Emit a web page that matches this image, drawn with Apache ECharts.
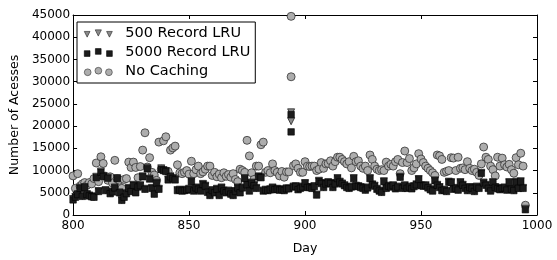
<!DOCTYPE html>
<html><head><meta charset="utf-8">
<script src="https://cdn.jsdelivr.net/npm/echarts@6/dist/echarts.min.js"></script>
<style>html,body{margin:0;padding:0;background:#fff}#c{width:557px;height:260px}</style>
</head><body><div id="c"></div>
<script>
const firstDay = 800;
const seriesNames = ['500 Record LRU', '5000 Record LRU', 'No Caching'];
const xTicks = [800, 850, 900, 950, 1000];
const yTicks = [0, 5000, 10000, 15000, 20000, 25000, 30000, 35000, 40000, 45000];

// one value per day starting at firstDay (800..995)
const noCaching = [
 8800, 6000, 9300, 6500, 7000, 7300, 6700, 7300, 7000, 8200,
 11700, 7500, 13100, 11600, 8700, 7800, 8600, 7200, 12300, 8200,
 7800, 6000, 8000, 8200, 11900, 10700, 11900, 10700, 8400, 10900,
 14600, 18500, 10800, 12900, 9600, 9000, 7800, 16400, 10300, 16700,
 17600, 9800, 14600, 15100, 15500, 11300, 9500, 9300, 9600, 10000,
 9200, 12100, 9300, 10200, 11000, 9300, 9700, 10300, 11000, 11000,
 8900, 9600, 8600, 9200, 8400, 9500, 8700, 9100, 8500, 9300,
 8000, 7500, 10300, 10000, 9600, 16800, 13300, 9500, 8000, 11000,
 11000, 15800, 16400, 9600, 10000, 9500, 11500, 10000, 9600, 8800,
 9800, 8500, 9700, 9700, 44700, 11100, 11500, 10500, 9600, 9600,
 12000, 11000, 10900, 11000, 11000, 10000, 10300, 11800, 10500, 11500,
 11600, 12200, 11000, 12000, 13000, 13000, 12500, 12000, 11500, 12000,
 10600, 13200, 12000, 12200, 11000, 10500, 11000, 10000, 13500, 12500,
 11000, 10300, 10000, 10200, 10000, 11900, 11000, 11400, 11000, 12000,
 12500, 9300, 11800, 14400, 11800, 12700, 10000, 10600, 11500, 13800,
 12600, 11800, 11000, 10500, 10000, 9500, 8900, 13500, 13300, 12500,
 9600, 9800, 10000, 12900, 12800, 10000, 13000, 10500, 10600, 10200,
 12000, 10500, 10000, 10300, 9600, 8900, 11500, 15300, 13000, 12500,
 11000, 10200, 8800, 13000, 11000, 12800, 11300, 10800, 11400, 10200,
 9400, 12900, 11300, 13900, 11000, 2200
];
const lru5000 = [
 3400, 4000, 4600, 6000, 4200, 6200, 4600, 4300, 4100, 4000,
 8400, 5300, 9600, 8700, 5500, 8300, 4800, 5200, 6100, 8200,
 5000, 3300, 4000, 4800, 6000, 5300, 6700, 5000, 6300, 6600,
 8600, 5800, 10400, 8100, 6000, 4700, 7200, 5800, 10300, 10000,
 9800, 7900, 8600, 8200, 7900, 5500, 5600, 5400, 5500, 5600,
 5800, 7500, 5400, 6100, 5800, 5400, 6900, 6500, 5100, 4400,
 5500, 5000, 5800, 4400, 6100, 5400, 5000, 5400, 4700, 4400,
 5300, 6100, 5000, 6100, 8200, 6800, 5400, 7200, 6600, 6000,
 8600, 8400, 5400, 5600, 5500, 5700, 6100, 5700, 5800, 5600,
 5700, 5500, 5900, 5900, 22600, 6300, 6400, 5700, 6000, 6300,
 7100, 6200, 6200, 6000, 6400, 4500, 7600, 7100, 6200, 7000,
 7300, 7100, 6200, 7000, 8200, 7400, 7000, 6600, 6200, 6000,
 6300, 8200, 6500, 6400, 6200, 6000, 5600, 6100, 8200, 6800,
 6500, 5800, 5400, 5100, 7500, 6000, 6500, 6300, 6600, 5900,
 6300, 8500, 6000, 6600, 6000, 6300, 5900, 6400, 6800, 8000,
 6600, 6500, 6600, 6100, 5700, 5400, 7700, 6700, 6200, 5500,
 5600, 5300, 7400, 7300, 5800, 6000, 5600, 7300, 6700, 6000,
 5500, 6200, 6000, 5300, 6300, 6000, 9400, 7200, 6700, 6000,
 5400, 7300, 6200, 5900, 5700, 6000, 6100, 5600, 7300, 5800,
 5500, 7400, 6000, 7500, 6000, 1200
];
const lru500 = [
 3600, 4100, 4700, 6100, 4300, 6300, 4700, 4400, 4200, 4100,
 8600, 5400, 9800, 8800, 5600, 8400, 4900, 5300, 6200, 8300,
 5100, 3400, 4100, 4900, 6100, 5400, 6800, 5100, 6400, 6700,
 8700, 5900, 10600, 8200, 6100, 4800, 7300, 5900, 10500, 10100,
 9900, 8000, 8700, 8300, 8000, 5600, 5700, 5500, 5600, 5700,
 5900, 7600, 5500, 6200, 5900, 5500, 7000, 6600, 5200, 4500,
 5600, 5100, 5900, 4500, 6200, 5500, 5100, 5500, 4800, 4500,
 5400, 6200, 5100, 6200, 8300, 6900, 5500, 7300, 6700, 6100,
 8700, 8500, 5500, 5700, 5600, 5800, 6200, 5800, 5900, 5700,
 5800, 5600, 6000, 6000, 23100, 6400, 6500, 5800, 6100, 6400,
 7200, 6300, 6300, 6100, 6500, 4600, 7700, 7200, 6300, 7100,
 7400, 7200, 6300, 7100, 8300, 7500, 7100, 6700, 6300, 6100,
 6400, 8300, 6600, 6500, 6300, 6100, 5700, 6200, 8300, 6900,
 6600, 5900, 5500, 5200, 7600, 6100, 6600, 6400, 6700, 6000,
 6400, 8600, 6100, 6700, 6100, 6400, 6000, 6500, 6900, 8100,
 6700, 6600, 6700, 6200, 5800, 5500, 7800, 6800, 6300, 5600,
 5700, 5400, 7500, 7400, 5900, 6100, 5700, 7400, 6800, 6100,
 5600, 6300, 6100, 5400, 6400, 6100, 9500, 7300, 6800, 6100,
 5500, 7400, 6300, 6000, 5800, 6100, 6200, 5700, 7400, 5900,
 5600, 7500, 6100, 7600, 6100, 1400
];
// second reading recorded on the spike day
const extraDay = 894;
const extraNoCaching = 31100;
const extra5000 = 18700;
const extra500 = 21100;

function pairs(vals, extra) {
  const out = vals.map((v, i) => [firstDay + i, v]);
  out.push([extraDay, extra]);
  return out;
}

const triPath = 'path://M0,2L5.5,2L2.75,7.5ZM10.5,0.5L16.5,0.5L13.5,6.5ZM21.5,2L27,2L24.25,7.5Z';
const sqPath = 'path://M0,2.5H5.5V8H0ZM10.7,0.5H16.2V6H10.7ZM21.5,2.5H27V8H21.5Z';
function circ(cx, cy, r) {
  return 'M' + (cx - r) + ',' + cy + 'A' + r + ',' + r + ',0,1,0,' + (cx + r) + ',' + cy +
         'A' + r + ',' + r + ',0,1,0,' + (cx - r) + ',' + cy + 'Z';
}
const cirPath = 'path://' + circ(3.3, 4.8, 3.3) + circ(13.7, 3.3, 3.3) + circ(24, 4.8, 3.3);

const font = 'DejaVu Sans';
const plain = v => String(v);
const chart = echarts.init(document.getElementById('c'), null, {renderer: 'canvas'});
const axisCommon = {
  axisLine: {show: true, onZero: false, lineStyle: {color: '#000', width: 1}},
  axisTick: {show: true, inside: true, length: 4, lineStyle: {color: '#000'}},
  splitLine: {show: false}
};
chart.setOption({
  animation: false,
  backgroundColor: '#fff',
  grid: {left: 71, right: 20, top: 15, bottom: 31},
  legend: {
    orient: 'vertical', left: 77, top: 22,
    backgroundColor: '#fff', borderColor: '#000', borderWidth: 1, borderRadius: 0,
    padding: [4, 5, 4, 7], itemGap: 4, itemWidth: 28, itemHeight: 9,
    textStyle: {fontFamily: font, fontSize: 14.5, color: '#000', padding: [0, 0, 0, 8]},
    data: [
      {name: seriesNames[0], icon: triPath, itemStyle: {borderWidth: 0.6}},
      {name: seriesNames[1], icon: sqPath, itemStyle: {borderWidth: 0.6}},
      {name: seriesNames[2], icon: cirPath, itemStyle: {borderWidth: 0.6}}
    ]
  },
  xAxis: [
    Object.assign({}, axisCommon, {
      type: 'value', min: xTicks[0], max: xTicks[xTicks.length - 1], interval: 50,
      name: 'Day', nameLocation: 'middle', nameGap: 27,
      nameTextStyle: {fontFamily: font, fontSize: 12.5, color: '#000'},
      axisLabel: {fontFamily: font, fontSize: 12, color: '#000', margin: 5, formatter: plain}
    }),
    Object.assign({}, axisCommon, {
      type: 'value', position: 'top', min: xTicks[0], max: xTicks[xTicks.length - 1], interval: 50,
      axisLabel: {show: false}
    })
  ],
  yAxis: [
    Object.assign({}, axisCommon, {
      type: 'value', min: yTicks[0], max: yTicks[yTicks.length - 1], interval: 5000,
      name: 'Number of Acesses', nameLocation: 'middle', nameGap: 41,
      nameTextStyle: {fontFamily: font, fontSize: 12.5, color: '#000'},
      axisLabel: {fontFamily: font, fontSize: 12, color: '#000', margin: 3, formatter: plain}
    }),
    Object.assign({}, axisCommon, {
      type: 'value', position: 'right', min: yTicks[0], max: yTicks[yTicks.length - 1], interval: 5000,
      axisLabel: {show: false}
    })
  ],
  series: [
    {
      name: seriesNames[2], type: 'scatter', z: 2, symbol: 'circle', symbolSize: 8,
      itemStyle: {color: '#adadad', borderColor: '#333', borderWidth: 0.8, opacity: 1},
      data: pairs(noCaching, extraNoCaching)
    },
    {
      name: seriesNames[0], type: 'scatter', z: 3, symbol: 'triangle', symbolSize: 7, symbolRotate: 180,
      itemStyle: {color: '#8a8a8a', borderColor: '#222', borderWidth: 0.8, opacity: 1},
      data: pairs(lru500, extra500)
    },
    {
      name: seriesNames[1], type: 'scatter', z: 4, symbol: 'rect', symbolSize: 6.5,
      itemStyle: {color: '#1c1c1c', borderColor: '#000', borderWidth: 0.6, opacity: 1},
      data: pairs(lru5000, extra5000)
    }
  ]
});
</script></body></html>
